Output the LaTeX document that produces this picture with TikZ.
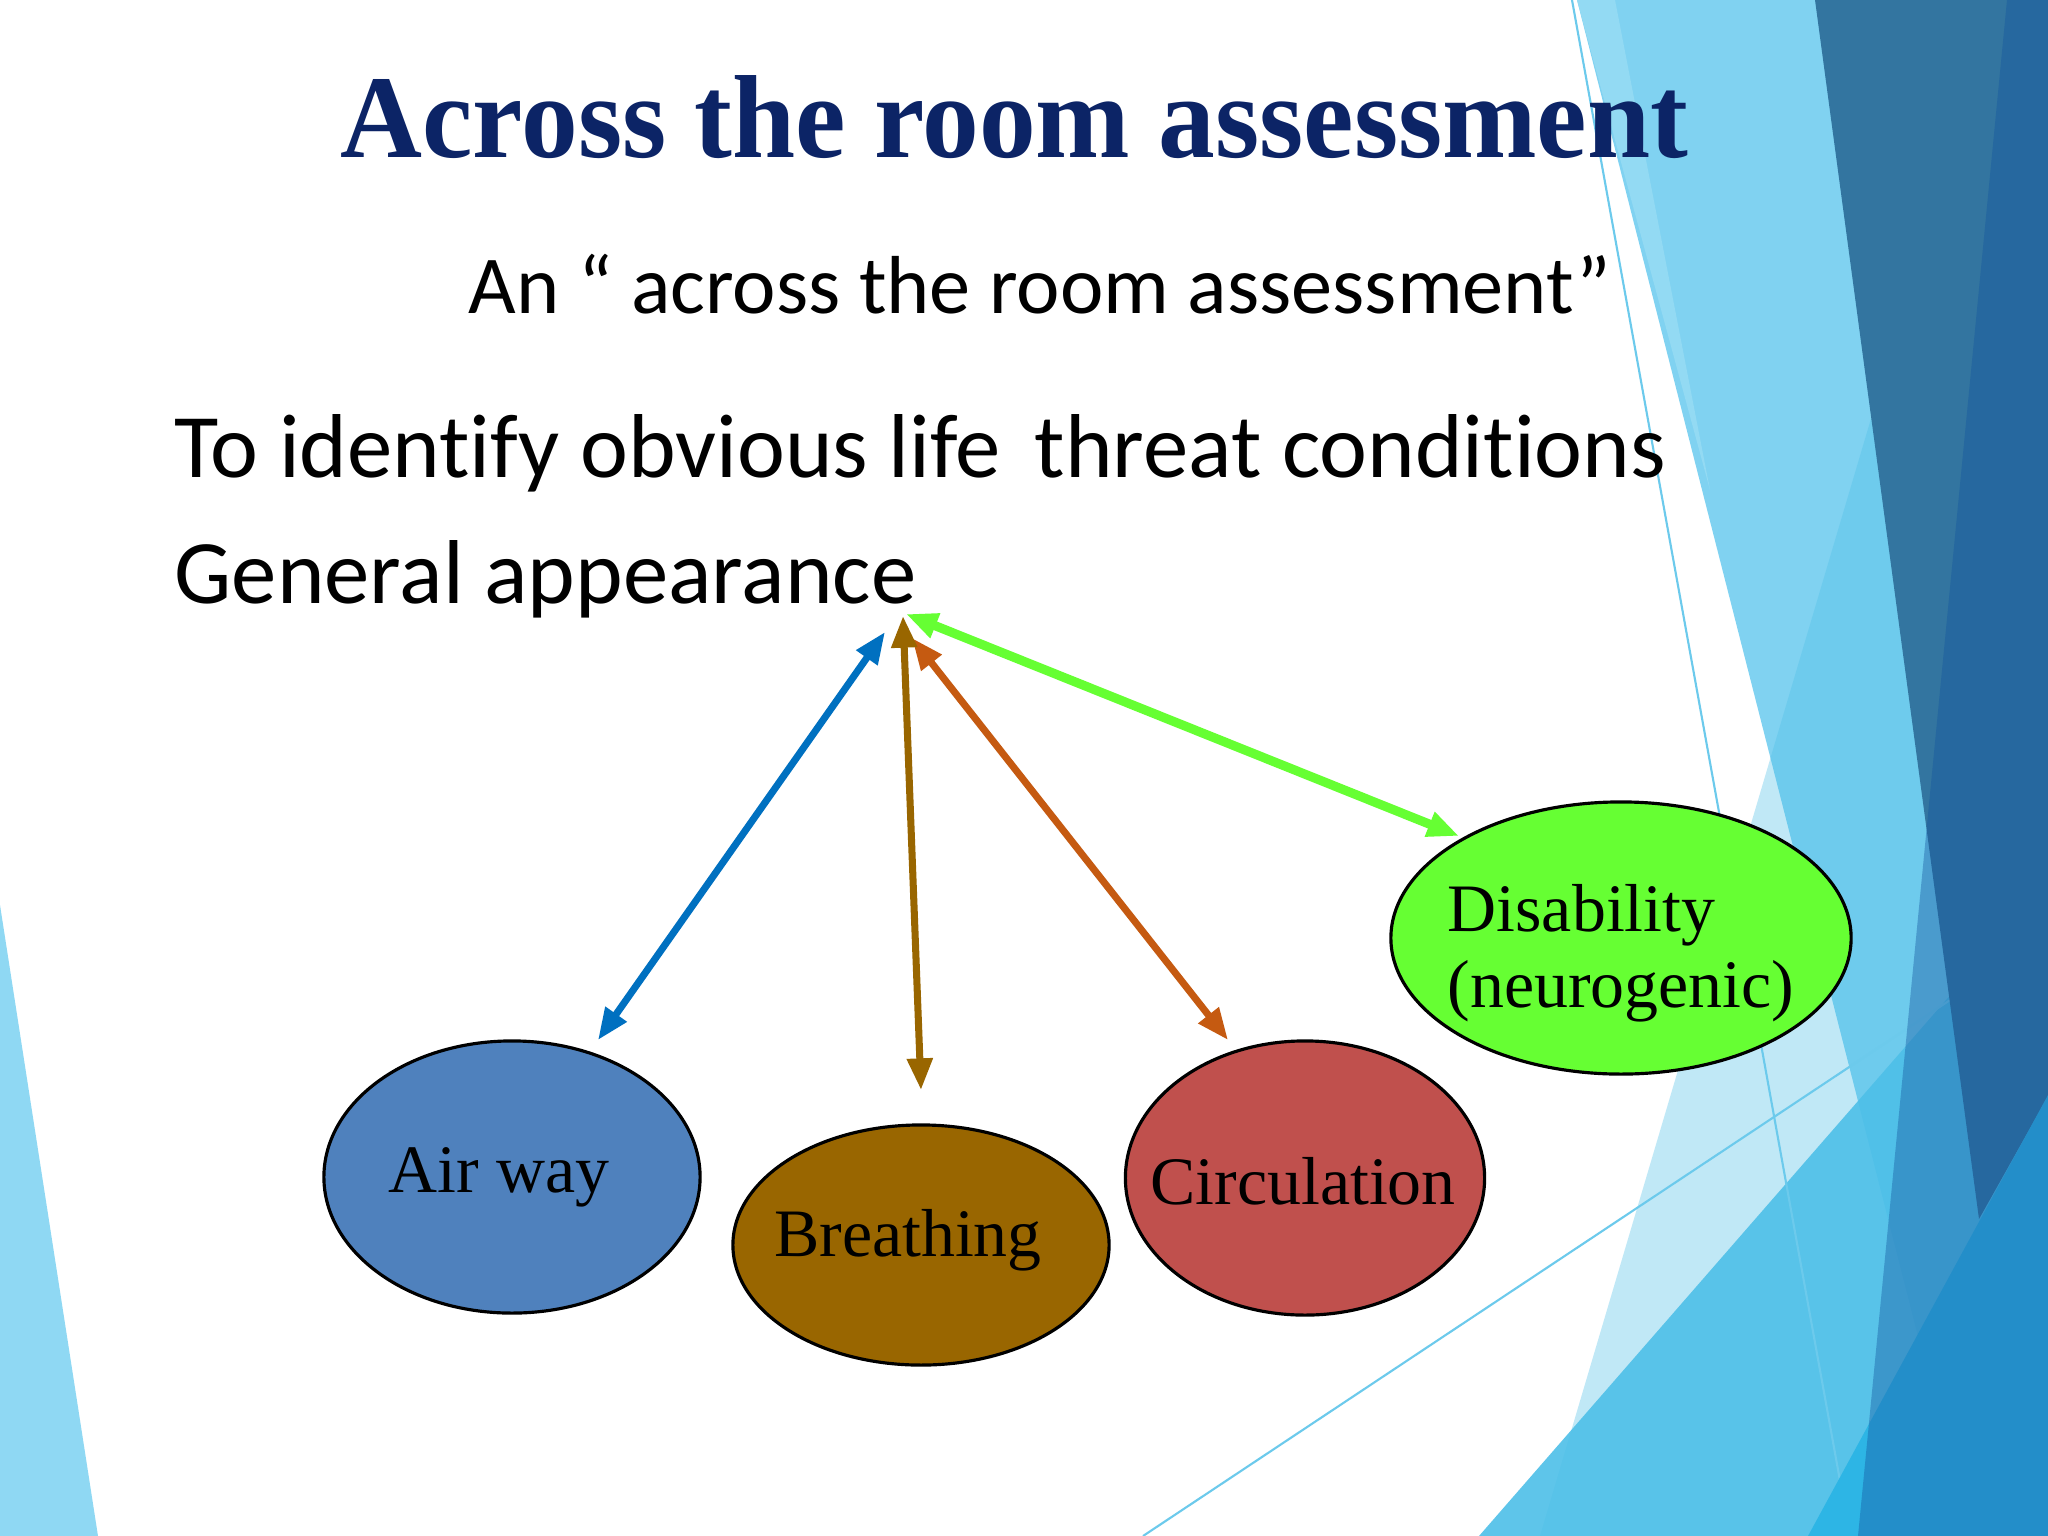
\documentclass[tikz,border=0pt]{standalone}
\usepackage{fontspec}
\setmainfont{Liberation Serif}
\setsansfont[Ligatures=NoCommon]{Carlito}
\newfontfamily\titlefont[FakeStretch=0.96]{Liberation Serif}
\usepackage{tikz}
\usetikzlibrary{shapes.geometric, arrows.meta, positioning}
\usepackage{xcolor}
\definecolor{titlenavy}{HTML}{0C2466}
\definecolor{facetlight}{HTML}{80D2F1}
\definecolor{facetpale}{HTML}{93DAF3}
\definecolor{facetsky}{HTML}{4DBFE8}
\definecolor{facetdark}{HTML}{3375A0}
\definecolor{facetdeep}{HTML}{14559F}
\definecolor{facetbright}{HTML}{2DB5E5}
\definecolor{facetline}{HTML}{6CCAEC}
\definecolor{airblue}{HTML}{4F81BD}
\definecolor{breathbrown}{HTML}{996600}
\definecolor{circred}{HTML}{C0504D}
\definecolor{disgreen}{HTML}{66FF33}
\definecolor{arrowblue}{HTML}{0070C0}
\definecolor{arroworange}{HTML}{C55A11}

\tikzset{
  blob/.style={ellipse, draw=black, line width=0.9pt, inner sep=0pt},
  blobtext/.style={inner sep=0pt, font=\fontsize{19.3pt}{21.6pt}\selectfont},
  link/.style={<->, >={Triangle[length=9pt,width=7pt]}, line width=2pt},
  slidetext/.style={anchor=base west, inner sep=0pt}
}

\begin{document}
\begin{tikzpicture}[x=0.01cm, y=-0.01cm]
          \useasboundingbox (0,0) rectangle (2048,1536);
          \fill[white] (0,0) rectangle (2048,1536);
          % facets of the slide theme
          \fill[facetpale!80!facetlight] (0,905) -- (98,1536) -- (0,1536) -- cycle;
          \fill[facetlight] (1577,0) -- (1815,0) -- (2048,0) -- (2048,1536) -- (1969,1536) -- cycle;
          \fill[facetpale] (1577,0) -- (1615,0) -- (1710,490) -- cycle;
          \fill[facetsky, opacity=0.35] (1878,395) -- (1540,1536) -- (2048,1536) -- (2048,395) -- cycle;
          \fill[facetsky, opacity=0.9] (1479,1536) -- (2048,883) -- (2048,1536) -- cycle;
          \draw[facetline, line width=0.6pt] (1143,1536) -- (2048,935);
          \draw[facetline, line width=0.6pt] (1572,0) -- (1850,1536);
          \fill[facetdark] (1815,0) -- (2048,0) -- (2048,1096) -- (1979,1219) -- cycle;
          \fill[facetbright] (1808,1536) -- (2048,1095) -- (2048,1536) -- cycle;
          \fill[facetdeep, opacity=0.4] (2007,0) -- (2048,0) -- (2048,1536) -- (1858,1536) -- cycle;

          % texts of the slide
          \node[slidetext, text=titlenavy,
            font=\titlefont\bfseries\fontsize{33.6pt}{40pt}\selectfont] (title) at (340,157) {Across the room assessment};
          \node[slidetext, font=\sffamily\fontsize{23.4pt}{28pt}\selectfont] (sub) at (468,313) {An “ across the room assessment”};
          \node[slidetext, font=\sffamily\fontsize{25.8pt}{31pt}\selectfont] (goal) at (174,477) {To identify obvious life\hspace{0.15em} threat conditions};
          \node[slidetext, font=\sffamily\fontsize{25.8pt}{31pt}\selectfont] (general) at (174,603) {General appearance};

          % the four checks
          \node[blob, fill=airblue, minimum width=3.76cm, minimum height=2.72cm] (airway) at (512,1177) {};
          \node[blob, fill=breathbrown, minimum width=3.76cm, minimum height=2.40cm] (breathing) at (921,1245) {};
          \node[blob, fill=circred, minimum width=3.59cm, minimum height=2.74cm] (circulation) at (1305,1178) {};
          \node[blob, fill=disgreen, minimum width=4.60cm, minimum height=2.72cm] (disability) at (1621,938) {};
          \node[blobtext] (airwaytext) at (499,1177) {Air way};
          \node[blobtext] (breathingtext) at (908,1240) {Breathing};
          \node[blobtext] (circulationtext) at (1303,1181) {Circulation};
          \node[blobtext, align=left] (disabilitytext) at (1621,953) {Disability\\(neurogenic)};

          % arrows from general appearance
          \coordinate (topA) at (885,632);
          \coordinate (endA) at (598,1040);
          \coordinate (topB) at (903,616);
          \coordinate (endB) at (921,1090);
          \coordinate (topC) at (912,638);
          \coordinate (endC) at (1228,1040);
          \coordinate (topD) at (906,614);
          \coordinate (endD) at (1459,836);
          \draw[link, arrowblue] (topA) -- (endA);
          \draw[link, arroworange] (topC) -- (endC);
          \draw[link, breathbrown] (topB) -- (endB);
          \draw[link, disgreen, line width=2.6pt] (topD) -- (endD);
      \end{tikzpicture}
\end{document}
